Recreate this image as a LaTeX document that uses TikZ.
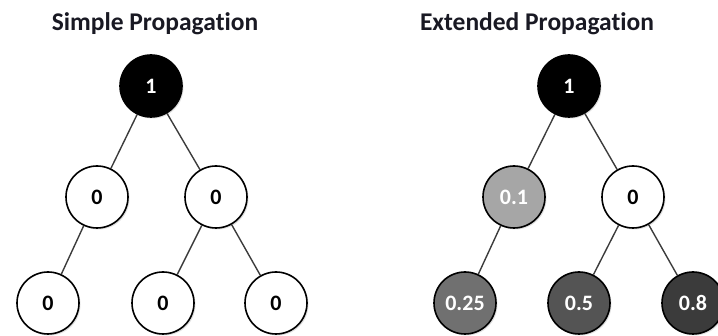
\documentclass[tikz,border=0pt]{standalone}
\usepackage{fontspec}
\setmainfont{Carlito}[Ligatures=NoCommon]
\usetikzlibrary{shadows}
\definecolor{EdgeGray}{RGB}{60,60,60}
\definecolor{TitleInk}{RGB}{25,25,35}

\begin{document}
\begin{tikzpicture}[x=1pt, y=-1pt,
    vertex/.style={circle, draw=black, line width=1.6pt, minimum size=62pt, inner sep=0pt,
        fill=white, font=\fontsize{22}{22}\selectfont\bfseries,
        drop shadow={shadow xshift=1.5pt, shadow yshift=-1.5pt, opacity=0.25}},
    title/.style={font=\fontsize{25.5}{25.5}\selectfont\bfseries, text=TitleInk},
    edge/.style={draw=EdgeGray, line width=1.4pt}]
    \useasboundingbox (0,0) rectangle (718,336);

    % Titulos
    \node[title] (tsimple) at (155,24) {Simple Propagation};
    \node[title] (textended) at (537,24) {Extended Propagation};

    % Arbol simple
    \node[vertex, fill=black, text=white] (s1) at (151,86) {1};
    \node[vertex] (s2) at (97,197) {0};
    \node[vertex] (s3) at (216,197) {0};
    \node[vertex] (s4) at (48,303) {0};
    \node[vertex] (s5) at (163,303) {0};
    \node[vertex] (s6) at (276,303) {0};

    % Arbol extendido
    \node[vertex, fill=black, text=white] (e1) at (569,86) {1};
    \node[vertex, fill=black!35, text=white] (e2) at (514,197) {0.1};
    \node[vertex] (e3) at (633,197) {0};
    \node[vertex, fill=black!56, text=white] (e4) at (465,303) {0.25};
    \node[vertex, fill=black!67, text=white] (e5) at (579,303) {0.5};
    \node[vertex, fill=black!77, text=white] (e6) at (693,303) {0.8};

    % Conexiones
    \draw[edge] (s1) -- (s2);
    \draw[edge] (s1) -- (s3);
    \draw[edge] (s2) -- (s4);
    \draw[edge] (s3) -- (s5);
    \draw[edge] (s3) -- (s6);
    \draw[edge] (e1) -- (e2);
    \draw[edge] (e1) -- (e3);
    \draw[edge] (e2) -- (e4);
    \draw[edge] (e3) -- (e5);
    \draw[edge] (e3) -- (e6);
\end{tikzpicture}
\end{document}
